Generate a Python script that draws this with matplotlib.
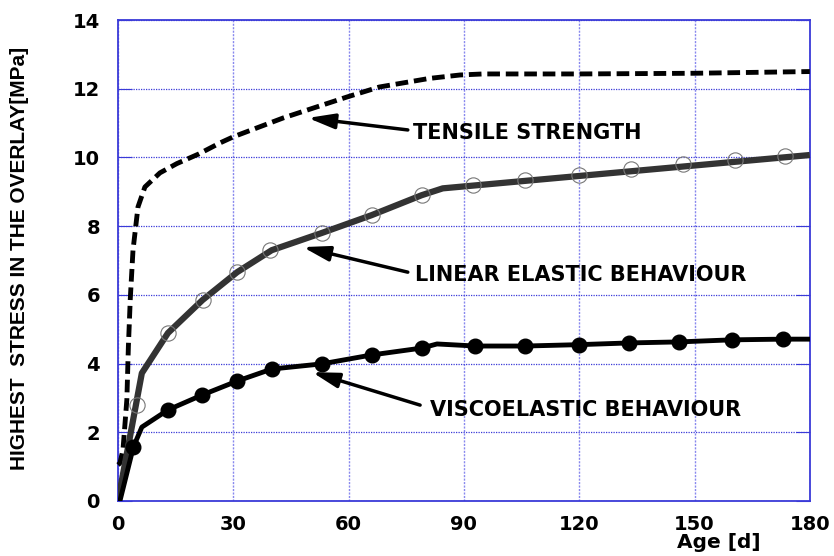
import matplotlib
matplotlib.use("Agg")
import matplotlib.pyplot as plt

plt.rcParams['font.family'] = ['DejaVu Sans']

# Tensile strength (dashed)
tensile_age = [0, 0.5, 1.3, 2.3, 2.7, 3.2, 3.9, 5.2, 7, 10.9, 15.3, 21, 26.5, 30, 43, 59.6, 68, 81, 89, 95, 120, 150, 180]
tensile_val = [1.05, 1.1, 1.5, 2.95, 4.5, 5.9, 7.3, 8.56, 9.14, 9.55, 9.82, 10.1, 10.42, 10.6, 11.15, 11.76, 12.05, 12.3, 12.4, 12.43, 12.43, 12.45, 12.5]

# Linear elastic behaviour (line vertices + markers)
lin_line_age = [0, 6.2, 13, 22, 31, 40, 53, 66, 79, 84.5, 180]
lin_line_val = [0, 3.72, 4.89, 5.85, 6.66, 7.3, 7.8, 8.32, 8.9, 9.1, 10.07]
lin_mk_age = [4.9, 13, 22, 31, 39.5, 53, 66, 79, 92.4, 106, 120, 133.5, 147, 160.5, 173.5]
lin_mk_val = [2.8, 4.89, 5.85, 6.66, 7.3, 7.8, 8.32, 8.9, 9.2, 9.34, 9.49, 9.65, 9.8, 9.92, 10.05]

# Viscoelastic behaviour
vis_line_age = [0.5, 4, 6.2, 13, 21.8, 31, 40, 53, 66, 79, 83, 93, 106, 120, 133, 146, 159.7, 173, 180]
vis_line_val = [0, 1.57, 2.15, 2.65, 3.08, 3.49, 3.84, 3.99, 4.25, 4.45, 4.57, 4.51, 4.51, 4.55, 4.6, 4.63, 4.69, 4.71, 4.71]
vis_mk_age = [4, 13, 21.8, 31, 40, 53, 66, 79, 93, 106, 120, 133, 146, 159.7, 173]
vis_mk_val = [1.57, 2.65, 3.08, 3.49, 3.84, 3.99, 4.25, 4.45, 4.51, 4.51, 4.55, 4.6, 4.63, 4.69, 4.71]

xticks = [0, 30, 60, 90, 120, 150, 180]
yticks = [0, 2, 4, 6, 8, 10, 12, 14]

fig = plt.figure(figsize=(8.34, 5.56), dpi=100)
ax = fig.add_axes([0.1415, 0.099, 0.8295, 0.865])

blue = '#3a3ad8'
ax.set_xlim(0, 180)
ax.set_ylim(0, 14)
ax.set_xticks(xticks)
ax.set_yticks(yticks)
for s in ax.spines.values():
    s.set_color(blue)
    s.set_linewidth(1.3)
ax.grid(True, axis='y', color=blue, linestyle=(0, (1, 1)), linewidth=0.9)
ax.grid(True, axis='x', color='#8888ee', linestyle=(0, (1.5, 1)), linewidth=1.0)
ax.tick_params(axis='y', direction='in', length=10, color=blue, left=True, right=True,
               labelsize=14, pad=13)
ax.tick_params(axis='x', direction='in', length=0, color=blue, labelsize=14, pad=10)
for lab in ax.get_xticklabels() + ax.get_yticklabels():
    lab.set_fontweight('bold')

ax.plot(tensile_age, tensile_val, color='black', lw=3.5, linestyle=(0, (2.6, 1.2)),
        zorder=3, clip_on=False)
ax.plot(lin_line_age, lin_line_val, color='#333333', lw=4.5, zorder=4, solid_capstyle='butt')
ax.plot(lin_mk_age, lin_mk_val, linestyle='none', marker='o', markersize=11,
        markerfacecolor='none', markeredgecolor='#777777', markeredgewidth=0.8, zorder=5)
ax.plot(vis_line_age, vis_line_val, color='black', lw=3.5, zorder=4)
ax.plot(vis_mk_age, vis_mk_val, linestyle='none', marker='o', markersize=10.5,
        markerfacecolor='black', markeredgecolor='black', zorder=5)

ax.set_xlabel('Age [d]', fontsize=14.5, fontweight='bold', labelpad=0)
ax.xaxis.set_label_coords(0.868, -0.066)
ax.xaxis.label.set_va('top')
ax.set_ylabel('HIGHEST  STRESS IN THE OVERLAY[MPa]', fontsize=15, fontweight='bold',
              family=['Liberation Sans', 'DejaVu Sans'])
ax.yaxis.set_label_coords(-0.128, 0.505)

arrow = dict(arrowstyle='-|>,head_length=1.6,head_width=0.45', color='black', lw=2.5,
             shrinkA=0, shrinkB=0)
ax.annotate('', xy=(49.4, 11.15), xytext=(75.4, 10.8), arrowprops=arrow)
ax.text(76.7, 10.71, 'TENSILE STRENGTH', fontsize=15, fontweight='bold', va='center', ha='left')
ax.annotate('', xy=(48.1, 7.39), xytext=(75.4, 6.66), arrowprops=arrow)
ax.text(77.3, 6.58, 'LINEAR ELASTIC BEHAVIOUR', fontsize=15, fontweight='bold', va='center', ha='left')
ax.annotate('', xy=(50.5, 3.75), xytext=(78.6, 2.79), arrowprops=arrow)
ax.text(81.2, 2.65, 'VISCOELASTIC BEHAVIOUR', fontsize=15, fontweight='bold', va='center', ha='left')

fig.savefig('out.png', dpi=100)
